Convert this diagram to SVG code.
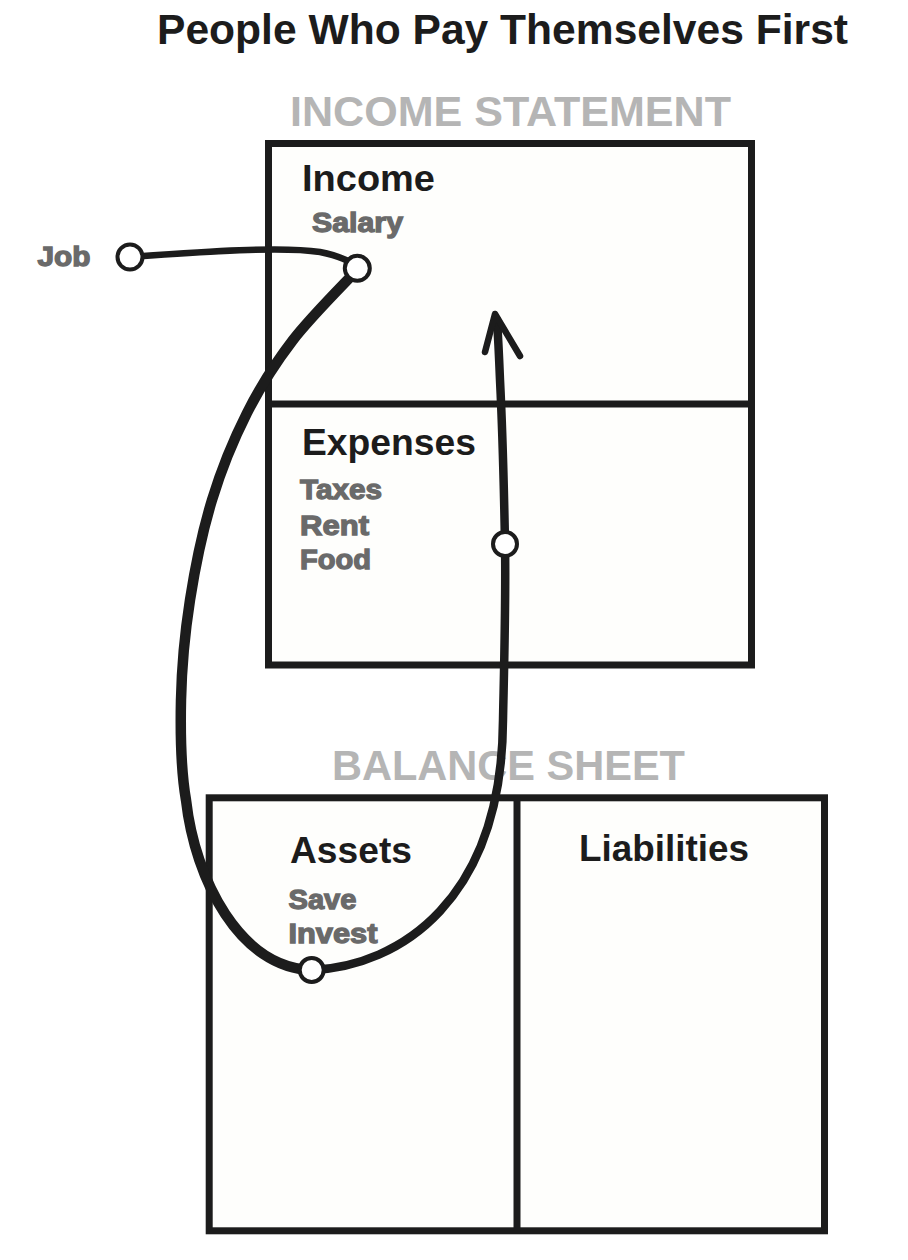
<svg xmlns="http://www.w3.org/2000/svg" width="908" height="1260" viewBox="0 0 908 1260">
<style>
.box{fill:#fefefc;stroke:#1c1c1c;stroke-width:7}
.div{stroke:#1c1c1c;stroke-width:7}
.title{font-family:"Liberation Sans",Arial,sans-serif;font-weight:bold;fill:#1c1c1c}
.sec{font-family:"Liberation Sans",Arial,sans-serif;font-weight:bold;fill:#b5b5b5;font-size:42.5px}
.head{font-family:"Liberation Sans",Arial,sans-serif;font-weight:bold;fill:#1c1c1c;font-size:37px}
.item{font-family:"Liberation Sans",Arial,sans-serif;font-weight:bold;fill:#6a6a6a;stroke:#6a6a6a;stroke-width:1.3;font-size:28px}
.flow{fill:none;stroke:#1c1c1c;stroke-linecap:round;stroke-linejoin:round}
.dot{fill:#fff;stroke:#1c1c1c;stroke-width:4}
</style>
<rect width="908" height="1260" fill="#fff"/>
<text class="title" x="157" y="44" font-size="42.5" textLength="691" lengthAdjust="spacingAndGlyphs">People Who Pay Themselves First</text>
<g id="income-statement">
<text class="sec" x="290" y="126" textLength="441" lengthAdjust="spacingAndGlyphs">INCOME STATEMENT</text>
<rect class="box" x="268.5" y="143.5" width="483" height="521.5"/>
<line class="div" x1="268.5" y1="404" x2="751.5" y2="404"/>
</g>
<g id="income">
<text class="head" x="302" y="191" textLength="133" lengthAdjust="spacingAndGlyphs">Income</text>
<text class="item" x="312" y="231.5" textLength="91" lengthAdjust="spacingAndGlyphs">Salary</text>
</g>
<g id="expenses">
<text class="head" x="302" y="455" textLength="174" lengthAdjust="spacingAndGlyphs">Expenses</text>
<text class="item" x="300" y="499" textLength="82" lengthAdjust="spacingAndGlyphs">Taxes</text>
<text class="item" x="300" y="534.5" textLength="69" lengthAdjust="spacingAndGlyphs">Rent</text>
<text class="item" x="300" y="568.5" textLength="71" lengthAdjust="spacingAndGlyphs">Food</text>
</g>
<g id="balance-sheet">
<text class="sec" x="332" y="780" textLength="353" lengthAdjust="spacingAndGlyphs">BALANCE SHEET</text>
<rect class="box" x="209.2" y="797.8" width="615.3" height="433"/>
<line class="div" x1="517" y1="797.8" x2="517" y2="1230.8"/>
</g>
<g id="assets">
<text class="head" x="290" y="862.5" textLength="122" lengthAdjust="spacingAndGlyphs">Assets</text>
<text class="item" x="288.5" y="908.5" textLength="68" lengthAdjust="spacingAndGlyphs">Save</text>
<text class="item" x="288.5" y="942.5" textLength="89" lengthAdjust="spacingAndGlyphs">Invest</text>
</g>
<g id="liabilities">
<text class="head" x="579" y="861" textLength="170" lengthAdjust="spacingAndGlyphs">Liabilities</text>
</g>
<g id="job">
<text class="item" x="37.5" y="265.5" textLength="53" lengthAdjust="spacingAndGlyphs">Job</text>
</g>
<g id="connectors">
<path class="flow" stroke-width="6.5" d="M130,257 C200,252 280,246 320,252 C340,256 352,262 357,268"/>
<path class="flow" stroke-width="10.5" d="M357,270 C346.3,281.7 311.3,316.2 293,340 C274.7,363.8 260.5,386.3 247,413 C233.5,439.7 221.5,468.8 212,500 C202.5,531.2 195.2,566.7 190,600 C184.8,633.3 181.7,666.7 181,700 C180.3,733.3 180.5,768.3 186,800 C195,880 240,968 312,970"/>
<path class="flow" stroke-width="8.5" d="M312,970 C400,966 502,900 503,720 C504,670 506,600 505,544 C504,490 502,420 500,380 C499,355 498,335 497,320"/>
<path class="flow" stroke-width="6.5" stroke-linejoin="miter" d="M485,352 L495,314 L520,356"/>
<circle class="dot" cx="130" cy="257" r="12.5"/>
<circle class="dot" cx="357.3" cy="268.3" r="12.5"/>
<circle class="dot" cx="505" cy="544" r="12"/>
<circle class="dot" cx="311.7" cy="970" r="12"/>
</g>
</svg>
